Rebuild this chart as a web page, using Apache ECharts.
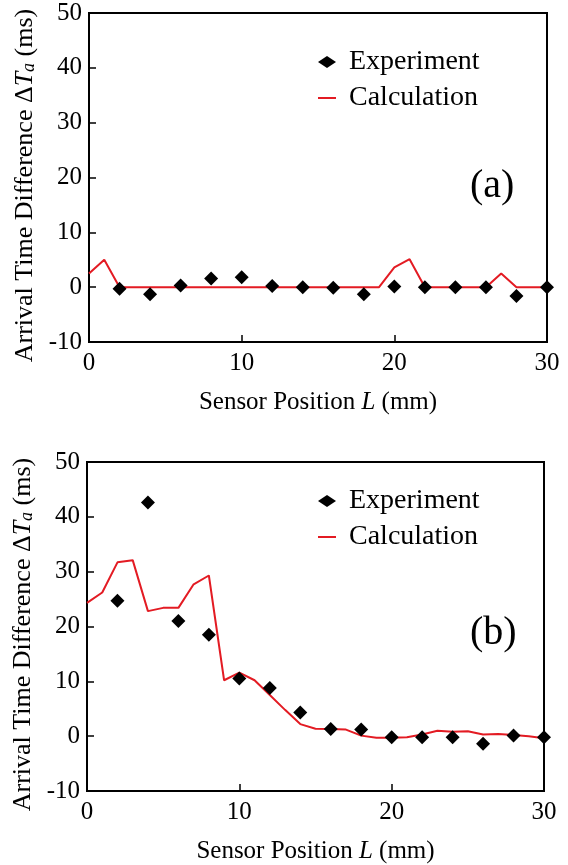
<!DOCTYPE html>
<html>
<head>
<meta charset="utf-8">
<script src="https://cdn.jsdelivr.net/npm/echarts@6/dist/echarts.min.js"></script>
<style>
  html, body { margin: 0; padding: 0; background: #fff; }
  #chart { width: 568px; height: 865px; }
</style>
</head>
<body>
<div id="chart"></div>
<script>
// sensor positions (mm)
const calcX = [0, 1, 2, 3, 4, 5, 6, 7, 8, 9, 10, 11, 12, 13, 14, 15, 16, 17, 18, 19, 20, 21, 22, 23, 24, 25, 26, 27, 28, 29, 30]
const expX = [2, 4, 6, 8, 10, 12, 14, 16, 18, 20, 22, 24, 26, 28, 30]

// (a) values, ms
const calcA = [2.5, 5.0, 0, 0, 0, 0, 0, 0, 0, 0, 0, 0, 0, 0, 0, 0, 0, 0, 0, 0, 3.6, 5.1, 0, 0, 0, 0, 0, 2.5, 0, 0, 0]
const expA = [-0.3, -1.3, 0.3, 1.6, 1.8, 0.2, 0, -0.1, -1.3, 0.1, 0, 0, 0, -1.6, 0]

// (b) values, ms
const calcB = [24.3, 26.2, 31.7, 32.1, 22.8, 23.4, 23.4, 27.7, 29.3, 10.2, 11.6, 10.2, 7.5, 4.8, 2.2, 1.35, 1.3, 1.2, 0.1, -0.3, -0.3, -0.2, 0.3, 1.0, 0.8, 0.9, 0.3, 0.4, 0.2, 0, -0.4]
const expB = [24.7, 42.6, 21.0, 18.5, 10.5, 8.8, 4.3, 1.3, 1.2, -0.2, -0.2, -0.2, -1.4, 0.1, -0.2]

const panelLabels = ['(a)', '(b)']
const xTicks = [0, 10, 20, 30]
const yTicks = [-10, 0, 10, 20, 30, 40, 50]

const FONT = 'Liberation Serif'
const RED = '#e31b23'

const chart = echarts.init(document.getElementById('chart'))

function pairs(xs, ys) {
  return xs.map((x, i) => [x, ys[i]])
}

function xAxisFor(gridIndex) {
  return {
    gridIndex: gridIndex,
    type: 'value',
    min: xTicks[0],
    max: xTicks[xTicks.length - 1],
    interval: 10,
    name: 'Sensor Position {i|L} (mm)',
    nameLocation: 'middle',
    nameGap: 48,
    nameTextStyle: {
      fontFamily: FONT, fontSize: 25, color: '#000',
      rich: { i: { fontFamily: FONT, fontSize: 25, fontStyle: 'italic', color: '#000' } }
    },
    axisLine: { onZero: false, lineStyle: { color: '#000', width: 2 } },
    axisTick: { inside: true, length: 7, lineStyle: { color: '#000', width: 1.5 } },
    axisLabel: { margin: 9, fontFamily: FONT, fontSize: 25, color: '#000' },
    splitLine: { show: false }
  }
}

function yAxisFor(gridIndex) {
  return {
    gridIndex: gridIndex,
    type: 'value',
    min: yTicks[0],
    max: yTicks[yTicks.length - 1],
    interval: 10,
    name: 'Arrival Time Difference Δ{i|T}{s|a} (ms)',
    nameLocation: 'middle',
    nameGap: 49,
    nameTextStyle: {
      fontFamily: FONT, fontSize: 26, color: '#000',
      padding: [0, 16, 0, 0],
      rich: {
        i: { fontFamily: FONT, fontSize: 26, fontStyle: 'italic', color: '#000' },
        s: { fontFamily: FONT, fontSize: 18, fontStyle: 'italic', color: '#000', verticalAlign: 'bottom', lineHeight: 8 }
      }
    },
    axisLine: { onZero: false, lineStyle: { color: '#000', width: 2 } },
    axisTick: { inside: true, length: 7, lineStyle: { color: '#000', width: 1.5 } },
    axisLabel: { margin: 7, fontFamily: FONT, fontSize: 25, color: '#000' },
    splitLine: { show: false }
  }
}

function legendFor(top) {
  return {
    orient: 'vertical',
    left: 313,
    top: top,
    itemWidth: 18,
    itemHeight: 12,
    itemGap: 8,
    textStyle: { fontFamily: FONT, fontSize: 28, color: '#000', padding: [0, 0, 0, 8] },
    data: [
      { name: 'Experiment', icon: 'diamond' },
      { name: 'Calculation', icon: 'path://M0,0L18,0L18,2L0,2Z' }
    ]
  }
}

const labelStyle = { fontFamily: FONT, fontSize: 40, fontWeight: 'normal', color: '#000' }

chart.setOption({
  animation: false,
  title: [
    { text: panelLabels[0], left: 470, top: 166, padding: 0, textStyle: labelStyle },
    { text: panelLabels[1], left: 470, top: 613, padding: 0, textStyle: labelStyle }
  ],
  legend: [legendFor(43), legendFor(482)],
  grid: [
    { left: 89, top: 13, width: 458, height: 329, show: true, borderColor: '#000', borderWidth: 2 },
    { left: 87, top: 462, width: 457, height: 329, show: true, borderColor: '#000', borderWidth: 2 }
  ],
  xAxis: [xAxisFor(0), xAxisFor(1)],
  yAxis: [yAxisFor(0), yAxisFor(1)],
  series: [
    {
      name: 'Calculation', type: 'line', xAxisIndex: 0, yAxisIndex: 0,
      data: pairs(calcX, calcA), symbol: 'none',
      lineStyle: { color: RED, width: 2 }, itemStyle: { color: RED }, z: 2
    },
    {
      name: 'Experiment', type: 'scatter', xAxisIndex: 0, yAxisIndex: 0,
      data: pairs(expX, expA), symbol: 'diamond', symbolSize: 14,
      itemStyle: { color: '#000', opacity: 1 }, z: 3
    },
    {
      name: 'Calculation', type: 'line', xAxisIndex: 1, yAxisIndex: 1,
      data: pairs(calcX, calcB), symbol: 'none',
      lineStyle: { color: RED, width: 2 }, itemStyle: { color: RED }, z: 2
    },
    {
      name: 'Experiment', type: 'scatter', xAxisIndex: 1, yAxisIndex: 1,
      data: pairs(expX, expB), symbol: 'diamond', symbolSize: 14,
      itemStyle: { color: '#000', opacity: 1 }, z: 3
    }
  ]
})
</script>
</body>
</html>
